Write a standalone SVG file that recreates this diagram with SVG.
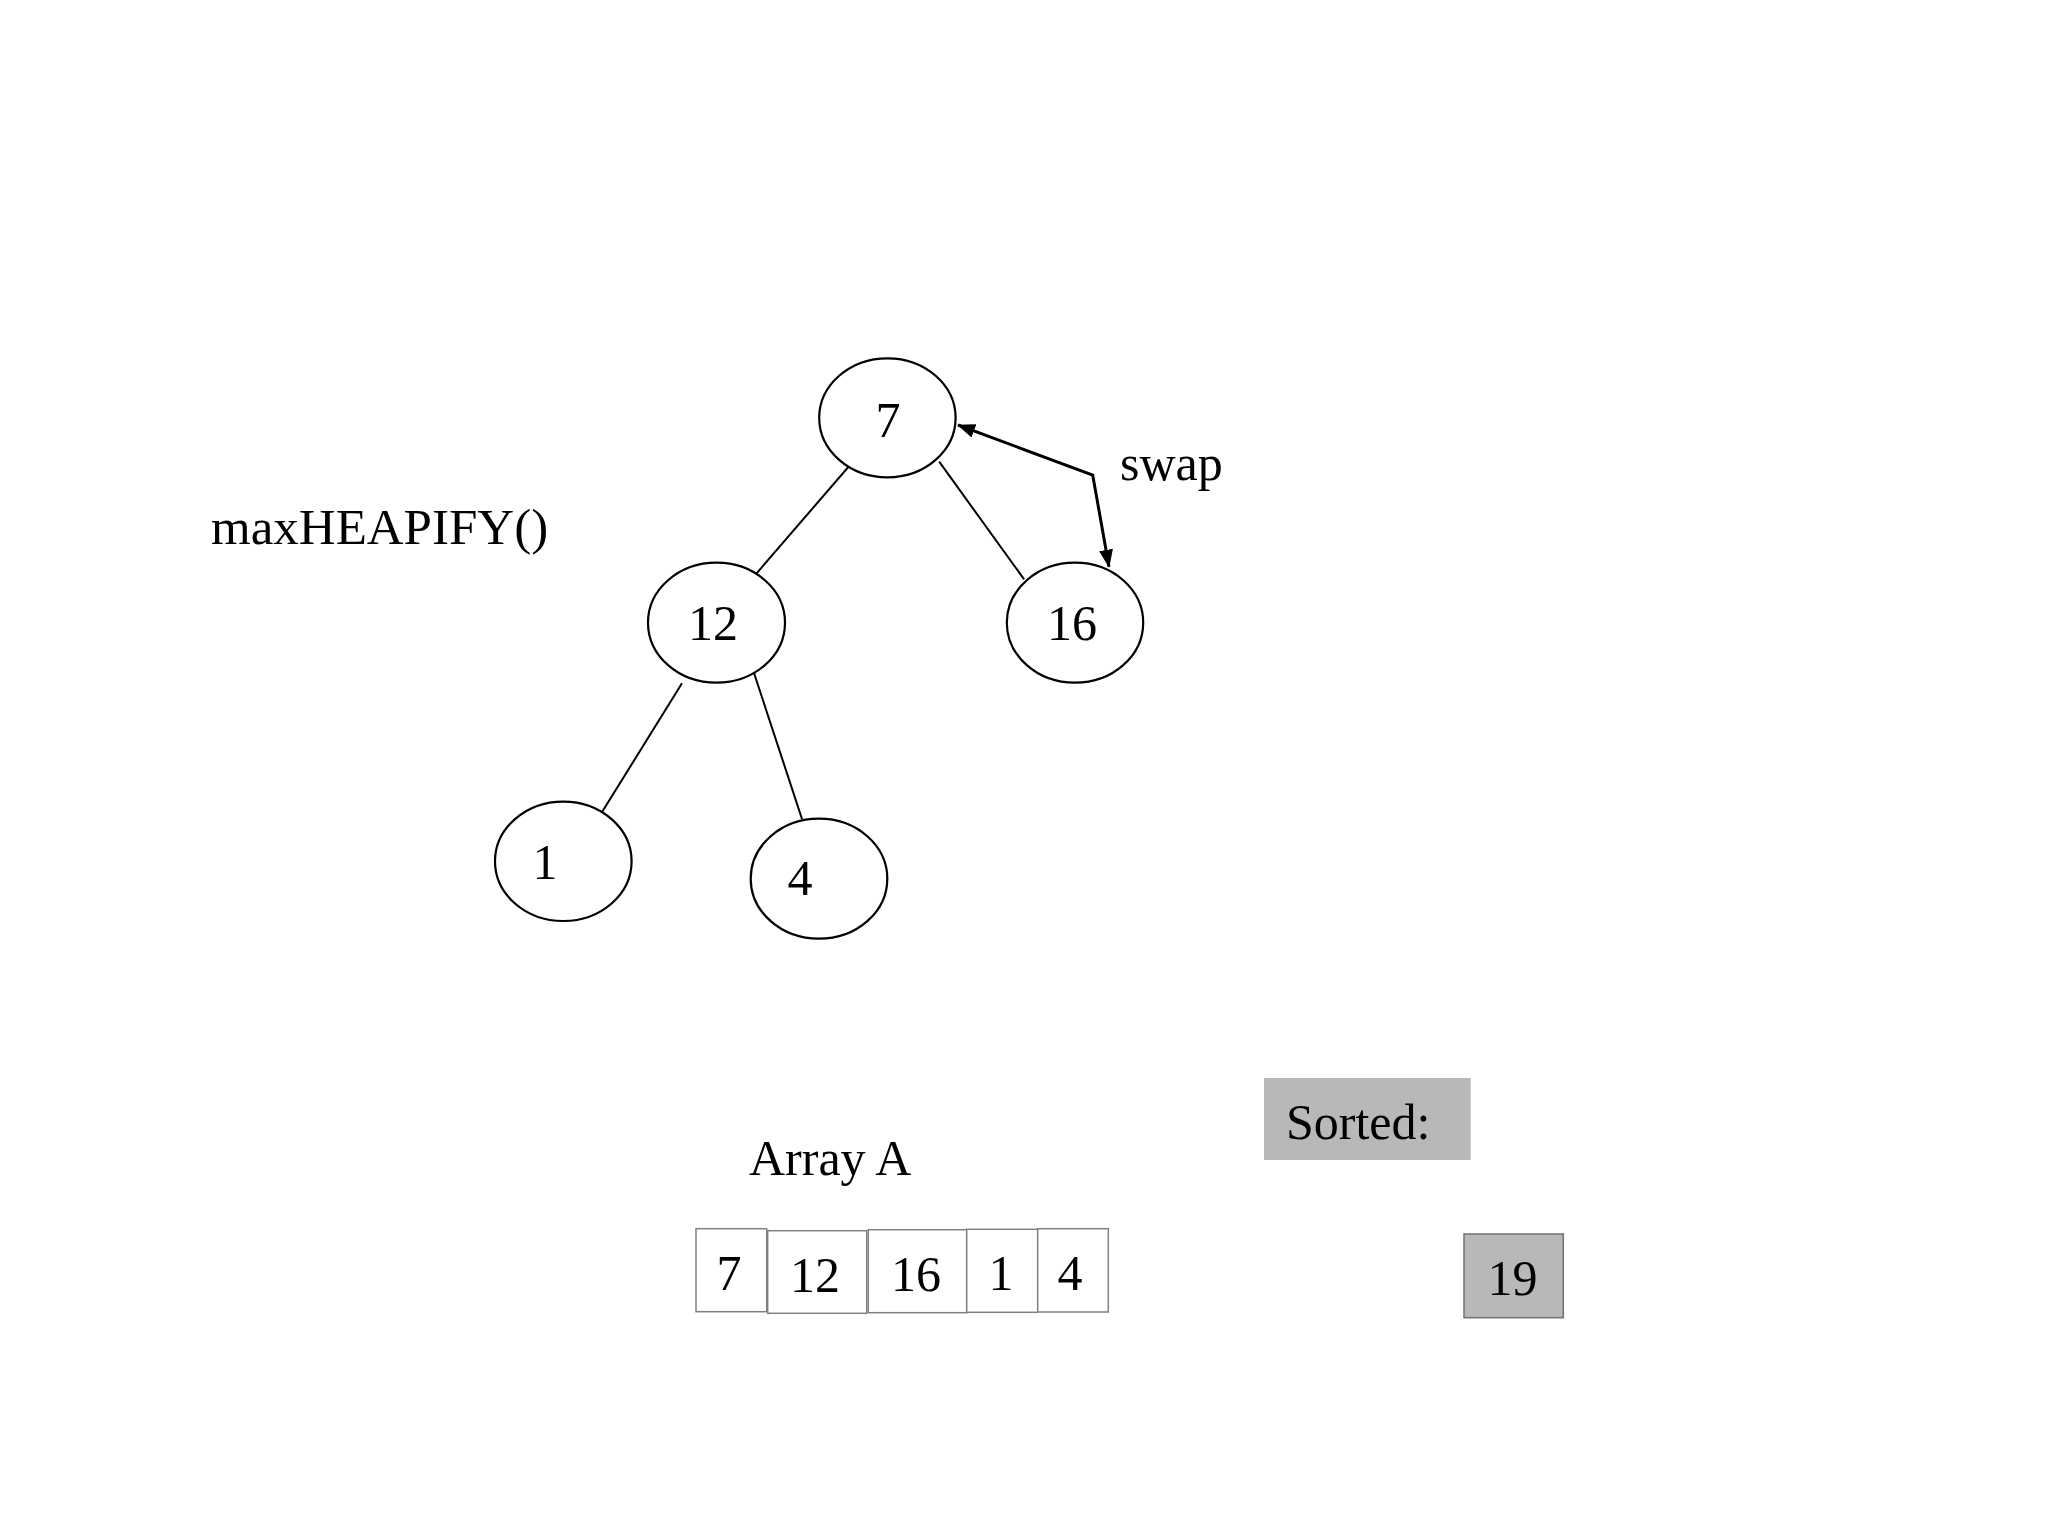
<svg xmlns="http://www.w3.org/2000/svg" width="2048" height="1536" viewBox="0 0 2048 1536">
<style>
text{font-family:"Liberation Serif","Times New Roman",serif;font-size:50px;fill:#000}
.node ellipse{fill:#fff;stroke:#000;stroke-width:2.2}
.mid{text-anchor:middle}
.edge{stroke:#000;stroke-width:2;fill:none}
.swap{stroke:#000;stroke-width:3;fill:none}
.cell{fill:#fff;stroke:#808080;stroke-width:1.5}
.gray{fill:#b8b8b8}
</style>
<defs>
<marker id="ah" viewBox="0 0 18 14" refX="17" refY="7" markerWidth="18" markerHeight="14" markerUnits="userSpaceOnUse" orient="auto-start-reverse">
<path d="M0,0 L18,7 L0,14 z" fill="#000"/>
</marker>
</defs>
<rect width="2048" height="1536" fill="#fff"/>
<text x="211" y="544" style="font-size:51px">maxHEAPIFY()</text>
<g id="connectors">
<line class="edge" x1="853.5" y1="461" x2="751.4" y2="579.3"/>
<line class="edge" x1="939.2" y1="461.7" x2="1024.1" y2="579.3"/>
<line class="edge" x1="682" y1="683.3" x2="597.7" y2="819"/>
<line class="edge" x1="751.7" y1="666" x2="802" y2="819"/>
<path class="swap" d="M958,425 L1092.7,475 L1109,566.7" marker-start="url(#ah)" marker-end="url(#ah)"/>
</g>
<text x="1120" y="480">swap</text>
<g id="node7" class="node"><ellipse cx="887.4" cy="417.8" rx="68.2" ry="59.5"/><text class="mid" x="888" y="437">7</text></g>
<g id="node12" class="node"><ellipse cx="716.5" cy="622.7" rx="68.5" ry="60"/><text class="mid" x="713" y="640">12</text></g>
<g id="node16" class="node"><ellipse cx="1075" cy="622.7" rx="68.2" ry="60"/><text class="mid" x="1072" y="640">16</text></g>
<g id="node1" class="node"><ellipse cx="563.3" cy="861.3" rx="68.3" ry="59.7"/><text class="mid" x="545" y="879">1</text></g>
<g id="node4" class="node"><ellipse cx="819" cy="878.7" rx="68.3" ry="60"/><text class="mid" x="800" y="895">4</text></g>
<text x="749" y="1175">Array A</text>
<g id="array">
<g id="a0"><rect class="cell" x="696" y="1228.7" width="70.7" height="83"/><text class="mid" x="729" y="1290">7</text></g>
<g id="a1"><rect class="cell" x="767.7" y="1230.7" width="99" height="82.6"/><text class="mid" x="815" y="1291.7">12</text></g>
<g id="a2"><rect class="cell" x="868.3" y="1229.7" width="98.4" height="83"/><text class="mid" x="916" y="1290.7">16</text></g>
<g id="a3"><rect class="cell" x="966.7" y="1229.3" width="71" height="83"/><text class="mid" x="1001" y="1290">1</text></g>
<g id="a4"><rect class="cell" x="1037.7" y="1228.7" width="70.6" height="83.3"/><text class="mid" x="1070" y="1290">4</text></g>
</g>
<g id="sorted"><rect class="gray" x="1264" y="1078" width="206.7" height="82"/><text x="1286" y="1139">Sorted:</text></g>
<g id="s19"><rect class="gray" x="1464" y="1234" width="99.3" height="83.7" stroke="#707070" stroke-width="1.5"/><text class="mid" x="1512.5" y="1295">19</text></g>
</svg>
